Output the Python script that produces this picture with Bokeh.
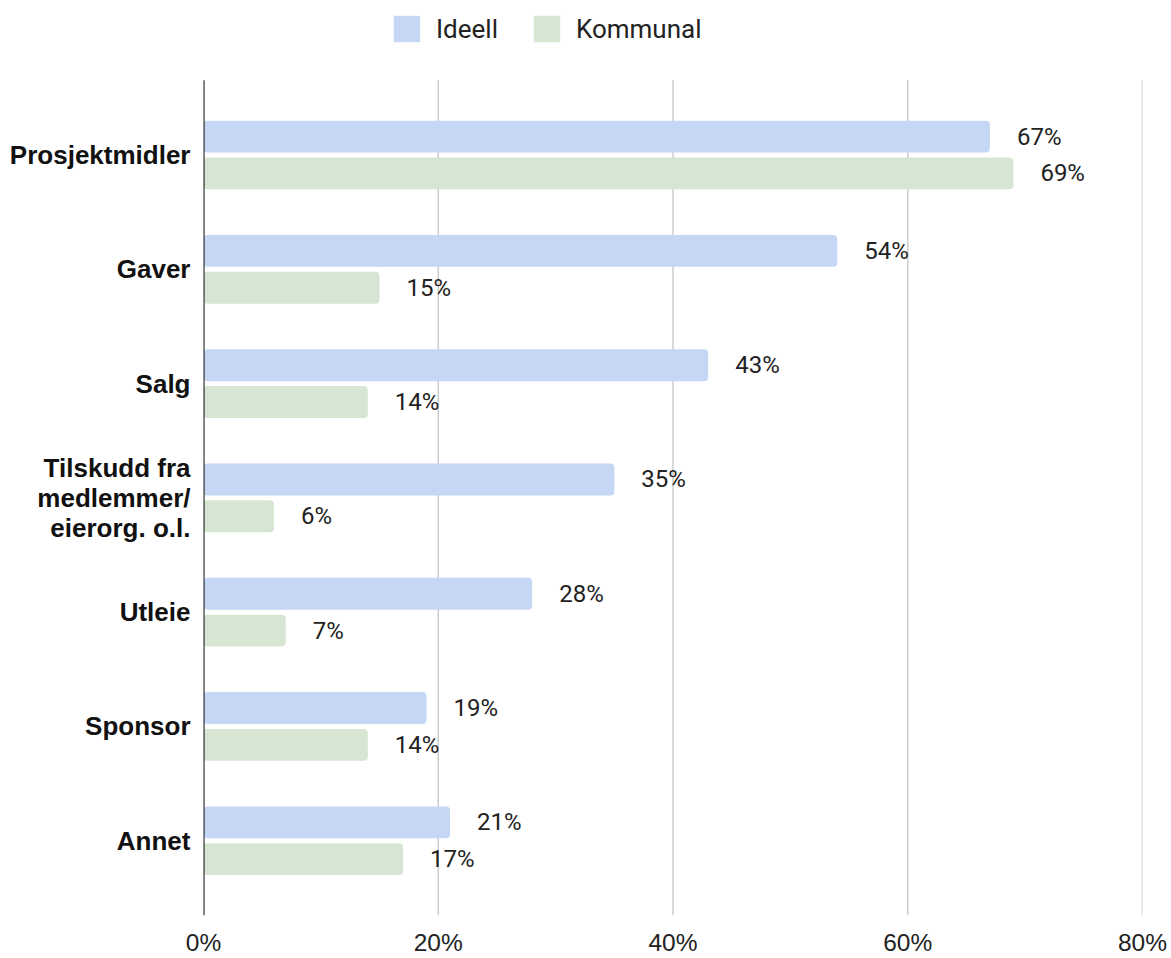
from bokeh.plotting import figure
from bokeh.models import Range1d, FixedTicker, Legend, LegendItem, ColumnDataSource
from bokeh.embed import file_html
from bokeh.resources import INLINE
from bokeh.core.properties import value

# ---- data ----
categories = ["Prosjektmidler", "Gaver", "Salg", "Tilskudd fra\nmedlemmer/\neierorg. o.l.",
              "Utleie", "Sponsor", "Annet"]
ideell = [67, 54, 43, 35, 28, 19, 21]
kommunal = [69, 15, 14, 6, 7, 14, 17]
series_names = ["Ideell", "Kommunal"]
x_ticks = [0, 20, 40, 60, 80]
x_tick_labels = ["0%", "20%", "40%", "60%", "80%"]

colors = ["#c6d6f5", "#d6e6d3"]
offset = 0.161
bar_h = 0.279
pad = 0.654                       # category-axis padding (in category units)
legend_room = 0.698               # extra room above the plot area for the legend

n = len(categories)
pos = list(range(n))
y_lo, y_hi = -pad, n - 1 + pad

src_i = ColumnDataSource(dict(y=[p_ - offset for p_ in pos], v=ideell,
                              lbl=[f"{v}%" for v in ideell]))
src_k = ColumnDataSource(dict(y=[p_ + offset for p_ in pos], v=kommunal,
                              lbl=[f"{v}%" for v in kommunal]))

p = figure(width=1171, height=958, output_backend="svg", toolbar_location=None,
           x_range=Range1d(x_ticks[0], x_ticks[-1]),
           y_range=Range1d(y_hi, y_lo - legend_room),
           min_border_left=203, min_border_right=29, min_border_top=0, min_border_bottom=41)
p.outline_line_color = None
p.background_fill_color = "white"

# vertical grid lines (only across the plot area)
p.segment(x0=x_ticks[1:], x1=x_ticks[1:], y0=[y_lo] * (len(x_ticks) - 1),
          y1=[y_hi] * (len(x_ticks) - 1), line_color="#cccccc", line_width=1.5)

r1 = p.hbar(y="y", right="v", left=0, height=bar_h, source=src_i, fill_color=colors[0],
            line_color=None, border_radius=4)
r2 = p.hbar(y="y", right="v", left=0, height=bar_h, source=src_k, fill_color=colors[1],
            line_color=None, border_radius=4)

# y axis baseline
p.segment(x0=[x_ticks[0]], x1=[x_ticks[0]], y0=[y_lo], y1=[y_hi],
          line_color="#222222", line_width=2.2)

for s in (src_i, src_k):
    p.text(x="v", y="y", text="lbl", source=s, x_offset=27, text_align="left",
           text_baseline="middle", text_font=value("Roboto"), text_font_size="24px",
           text_color="#222222")

# x axis
p.xaxis.ticker = FixedTicker(ticks=x_ticks)
p.xaxis.major_label_overrides = {t: l for t, l in zip(x_ticks, x_tick_labels)}
p.xaxis.axis_line_color = None
p.xaxis.major_tick_line_color = None
p.xaxis.minor_tick_line_color = None
p.xaxis.major_tick_out = 0
p.xaxis.major_tick_in = 0
p.xaxis.major_label_standoff = 13
p.xaxis.major_label_text_font = "Liberation Sans"
p.xaxis.major_label_text_font_size = "24.5px"
p.xaxis.major_label_text_color = "#222222"

p.xgrid.grid_line_color = None
p.ygrid.grid_line_color = None

# y axis
p.yaxis.ticker = FixedTicker(ticks=pos)
p.yaxis.major_label_overrides = {i: c for i, c in zip(pos, categories)}
p.yaxis.axis_line_color = None
p.yaxis.major_tick_line_color = None
p.yaxis.minor_tick_line_color = None
p.yaxis.major_tick_out = 0
p.yaxis.major_tick_in = 0
p.yaxis.major_label_standoff = 13
p.yaxis.major_label_text_font = "Liberation Sans"
p.yaxis.major_label_text_font_style = "bold"
p.yaxis.major_label_text_font_size = "26px"
p.yaxis.major_label_text_line_height = 1.0
p.yaxis.major_label_text_color = "#111111"

legend = Legend(items=[LegendItem(label=series_names[0], renderers=[r1]),
                       LegendItem(label=series_names[1], renderers=[r2])],
                orientation="horizontal", location=(187, 870),
                glyph_width=33, glyph_height=33, label_standoff=13, spacing=32,
                padding=0, margin=0, border_line_color=None, background_fill_alpha=0,
                label_text_font="Roboto", label_text_font_size="26px",
                label_text_color="#222222")
p.add_layout(legend, "center")

open("out.html", "w").write(file_html(p, INLINE))
